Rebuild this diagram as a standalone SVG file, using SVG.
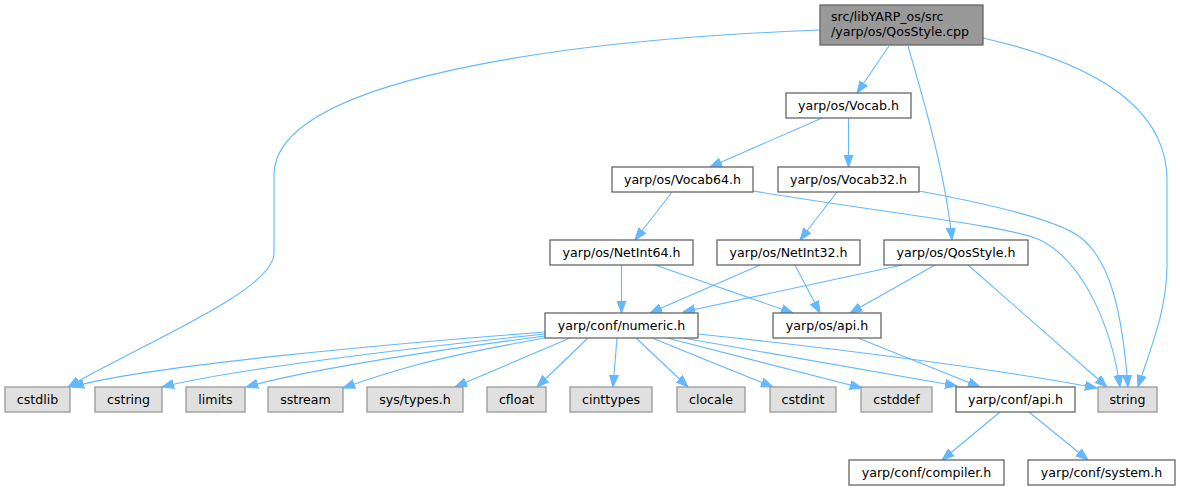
<svg xmlns="http://www.w3.org/2000/svg" width="1181" height="491" viewBox="0 0 1181 491">
<style>
text{font-family:"DejaVu Sans","Liberation Sans",sans-serif;font-size:12.6px;fill:#000;text-anchor:middle}
.n rect{fill:#fff;stroke:#666;stroke-width:1.3}
.g rect{fill:#e0e0e0;stroke:#999;stroke-width:1.3}
.t rect{fill:#999;stroke:#666;stroke-width:1.3}
#edges path{fill:none;stroke:#63b8ff;stroke-width:1.1;marker-end:url(#arr)}
</style>
<defs>
<marker id="arr" markerUnits="userSpaceOnUse" markerWidth="13" markerHeight="11" refX="12" refY="5" orient="auto" viewBox="0 0 13 10">
<path d="M0,0.5 L12,5 L0,9.5 z" fill="#63b8ff" stroke="#63b8ff" stroke-width="1"/>
</marker>
</defs>
<rect width="1181" height="491" fill="#fff"/>
<g id="edges">
<path d="M820,30 C560,40 274,80 274,175 L274,253 C274,290 150,340 68,387"/>
<path d="M889,46 L857,93"/>
<path d="M908,46 C922,95 945,170 952,240"/>
<path d="M983,38 C1080,60 1167,100 1167,180 L1167,265 C1167,310 1150,350 1138,387"/>
<path d="M822,118 L710,167"/>
<path d="M848.5,118 L848.5,167"/>
<path d="M672,192 L635,240"/>
<path d="M837,192 L800,240"/>
<path d="M753,191 C900,215 1010,226 1040,240 C1085,262 1112,330 1120,387"/>
<path d="M919,191 C1000,206 1060,222 1080,237 C1110,260 1122,310 1128,387"/>
<path d="M621.5,265 L621.5,313"/>
<path d="M655,265 L793,313"/>
<path d="M760,265 L650,313"/>
<path d="M795,265 L820,313"/>
<path d="M902,265 L683,312"/>
<path d="M935,265 L850,313"/>
<path d="M968,265 L1107,387"/>
<path d="M858,338 L980,387"/>
<path d="M545,332 C400,343 150,365 72,387"/>
<path d="M545,334 C400,349 230,370 162,387"/>
<path d="M545,336 C400,355 300,372 246,387"/>
<path d="M545,338 C420,360 380,375 343,388"/>
<path d="M570,338 L455,387"/>
<path d="M588,338 L537,387"/>
<path d="M617,338 L613,387"/>
<path d="M636,338 L688,387"/>
<path d="M652,338 L773,387"/>
<path d="M667,338 L862,388"/>
<path d="M683,338 L957,386"/>
<path d="M698,334 C850,350 1000,370 1097,388"/>
<path d="M1000,412 L942,460"/>
<path d="M1029,412 L1088,460"/>
</g>
<g id="n_top" class="t"><rect x="820" y="5" width="163" height="40"/><text x="831" y="21" style="text-anchor:start">src/libYARP_os/src</text><text x="831" y="36" style="text-anchor:start">/yarp/os/QosStyle.cpp</text></g>
<g id="n_vocab" class="n"><rect x="786" y="93" width="125" height="25"/><text x="848.5" y="110">yarp/os/Vocab.h</text></g>
<g id="n_vocab64" class="n"><rect x="612" y="167" width="141" height="25"/><text x="682.5" y="184">yarp/os/Vocab64.h</text></g>
<g id="n_vocab32" class="n"><rect x="778" y="167" width="141" height="25"/><text x="848.5" y="184">yarp/os/Vocab32.h</text></g>
<g id="n_netint64" class="n"><rect x="550" y="240" width="143" height="25"/><text x="621.5" y="257">yarp/os/NetInt64.h</text></g>
<g id="n_netint32" class="n"><rect x="717" y="240" width="143" height="25"/><text x="788.5" y="257">yarp/os/NetInt32.h</text></g>
<g id="n_qosh" class="n"><rect x="884" y="240" width="144" height="25"/><text x="956" y="257">yarp/os/QosStyle.h</text></g>
<g id="n_numeric" class="n"><rect x="545" y="313" width="153" height="25"/><text x="621.5" y="330">yarp/conf/numeric.h</text></g>
<g id="n_osapi" class="n"><rect x="773" y="313" width="108" height="25"/><text x="827" y="330">yarp/os/api.h</text></g>
<g id="n_cstdlib" class="g"><rect x="5" y="387" width="65" height="25"/><text x="37.5" y="404">cstdlib</text></g>
<g id="n_cstring" class="g"><rect x="95" y="387" width="67" height="25"/><text x="128.5" y="404">cstring</text></g>
<g id="n_limits" class="g"><rect x="186" y="387" width="59" height="25"/><text x="215.5" y="404">limits</text></g>
<g id="n_sstream" class="g"><rect x="268" y="387" width="75" height="25"/><text x="305.5" y="404">sstream</text></g>
<g id="n_systypes" class="g"><rect x="367" y="387" width="96" height="25"/><text x="415" y="404">sys/types.h</text></g>
<g id="n_cfloat" class="g"><rect x="487" y="387" width="59" height="25"/><text x="516.5" y="404">cfloat</text></g>
<g id="n_cinttypes" class="g"><rect x="570" y="387" width="82" height="25"/><text x="611" y="404">cinttypes</text></g>
<g id="n_clocale" class="g"><rect x="677" y="387" width="68" height="25"/><text x="711" y="404">clocale</text></g>
<g id="n_cstdint" class="g"><rect x="770" y="387" width="66" height="25"/><text x="803" y="404">cstdint</text></g>
<g id="n_cstddef" class="g"><rect x="861" y="387" width="71" height="25"/><text x="896.5" y="404">cstddef</text></g>
<g id="n_confapi" class="n"><rect x="956" y="387" width="119" height="25"/><text x="1015.5" y="404">yarp/conf/api.h</text></g>
<g id="n_string" class="g"><rect x="1098" y="387" width="59" height="25"/><text x="1127.5" y="404">string</text></g>
<g id="n_compiler" class="n"><rect x="849" y="460" width="155" height="25"/><text x="926.5" y="477">yarp/conf/compiler.h</text></g>
<g id="n_system" class="n"><rect x="1028" y="460" width="147" height="25"/><text x="1101.5" y="477">yarp/conf/system.h</text></g>
</svg>
